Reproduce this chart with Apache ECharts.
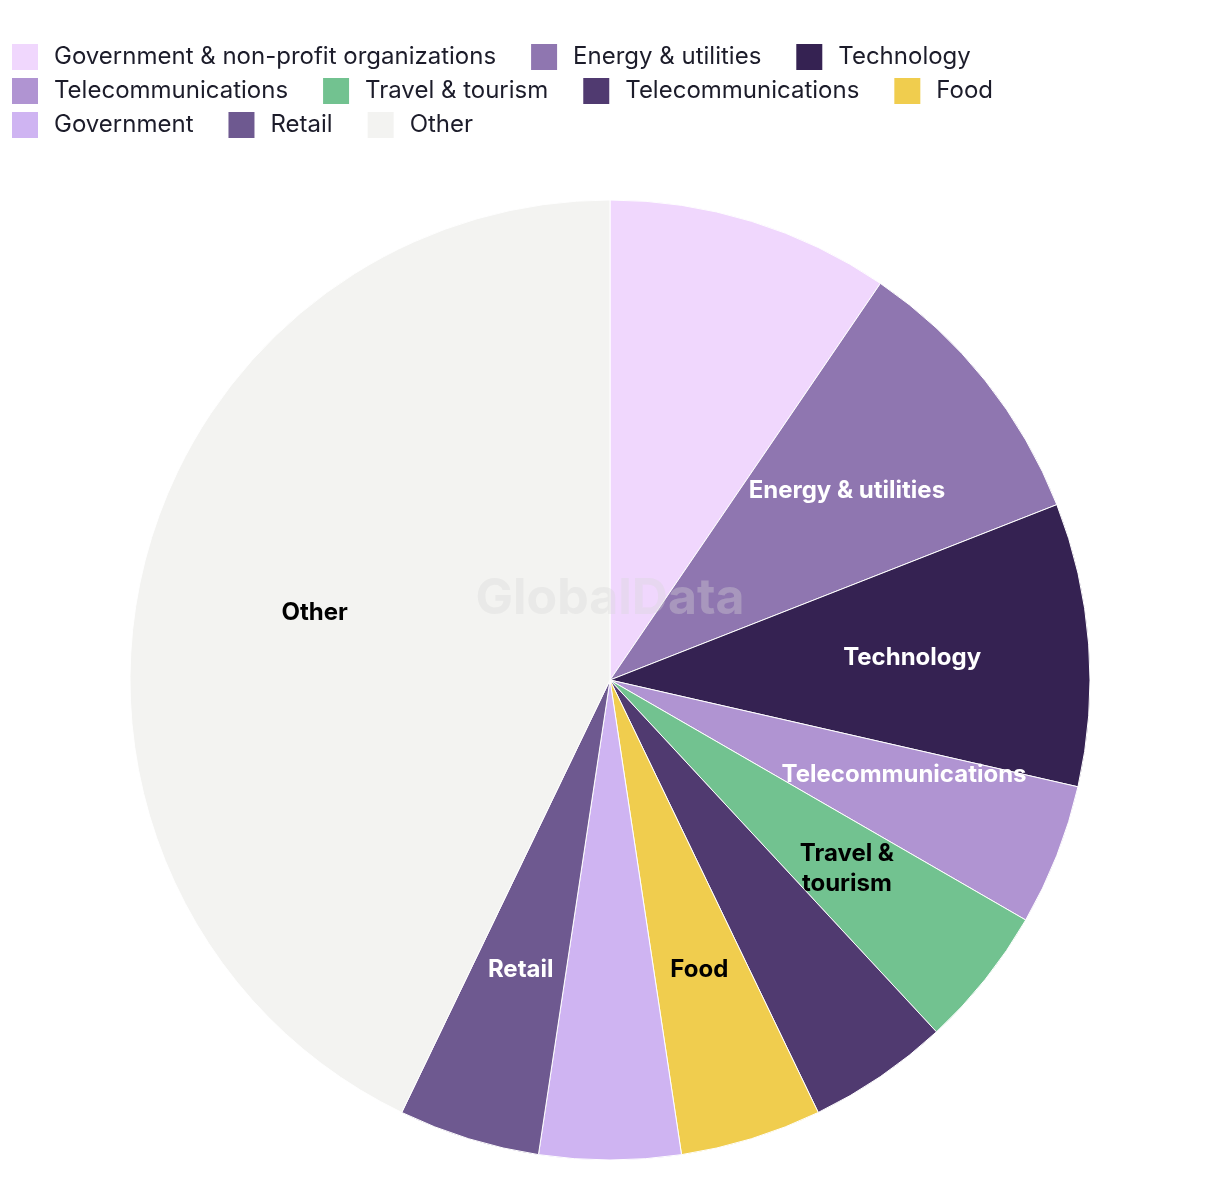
<!DOCTYPE html>
<html>
<head>
<meta charset="utf-8">
<script src="https://cdn.jsdelivr.net/npm/echarts@6/dist/echarts.min.js"></script>
<style>html,body{margin:0;padding:0;background:#fff;}#chart{width:1220px;height:1202px;}</style>
</head>
<body>
<div id="chart"></div>
<script>
// Data
const categories = ['Government & non-profit organizations', 'Energy & utilities', 'Technology', 'Telecommunications', 'Travel & tourism', 'Telecommunications ', 'Food', 'Government', 'Retail', 'Other'];
const values = [2, 2, 2, 1, 1, 1, 1, 1, 1, 9];
const sliceLabels = ['', 'Energy & utilities', 'Technology', 'Telecommunications', 'Travel &\ntourism', '', 'Food', '', 'Retail', 'Other'];
const colors = ['#f0d7fd', '#8f76b0', '#352252', '#b094d2', '#72c290', '#503a70', '#f0cd4e', '#cfb4f2', '#6e5990', '#f3f3f1'];
const labelColors = ['#000', '#fff', '#fff', '#fff', '#000', '#fff', '#000', '#000', '#fff', '#000'];
const legendRows = [[0, 1, 2], [3, 4, 5, 6], [7, 8, 9]];

const FONT = 'Inter';
const chart = echarts.init(document.getElementById('chart'), null, {renderer: 'canvas'});

const baseData = categories.map((c, i) => ({
  name: c, value: values[i], itemStyle: {color: colors[i]}
}));
const labelData = categories.map((c, i) => ({
  name: c, value: values[i],
  itemStyle: {color: 'rgba(0,0,0,0)', borderWidth: 0},
  label: {
    show: sliceLabels[i] !== '', color: labelColors[i], formatter: sliceLabels[i],
    offset: i === 3 ? [12, -16] : [0, 0]
  }
}));

const legends = legendRows.map((row, r) => ({
  data: row.map(i => categories[i]),
  left: 10, top: 42 + r * 34,
  orient: 'horizontal',
  itemWidth: 28, itemHeight: 28, itemGap: 33,
  padding: 0,
  icon: 'rect',
  selectedMode: false,
  formatter: n => n.trim(),
  textStyle: {fontFamily: FONT, fontSize: 24, color: '#1c1c2a', padding: [0, 0, 0, 10]}
}));

chart.setOption({
  animation: false,
  backgroundColor: '#fff',
  legend: legends,
  graphic: [{
    type: 'text', left: 'center', top: 574, z: 100, silent: true,
    style: {text: 'GlobalData', font: 'bold 50px ' + FONT, fill: 'rgba(215,215,215,0.35)'}
  }],
  series: [{
    type: 'pie', center: [610, 680], radius: [0, 480], startAngle: 90, clockwise: true,
    label: {show: false}, labelLine: {show: false},
    itemStyle: {borderColor: '#fff', borderWidth: 1},
    data: baseData, silent: true
  }, {
    type: 'pie', center: [610, 680], radius: [120, 480], startAngle: 90, clockwise: true,
    label: {position: 'inside', fontFamily: FONT, fontWeight: 'bold', fontSize: 24, lineHeight: 30, align: 'center'},
    labelLine: {show: false},
    data: labelData, silent: true, z: 3
  }]
});
</script>
</body>
</html>
